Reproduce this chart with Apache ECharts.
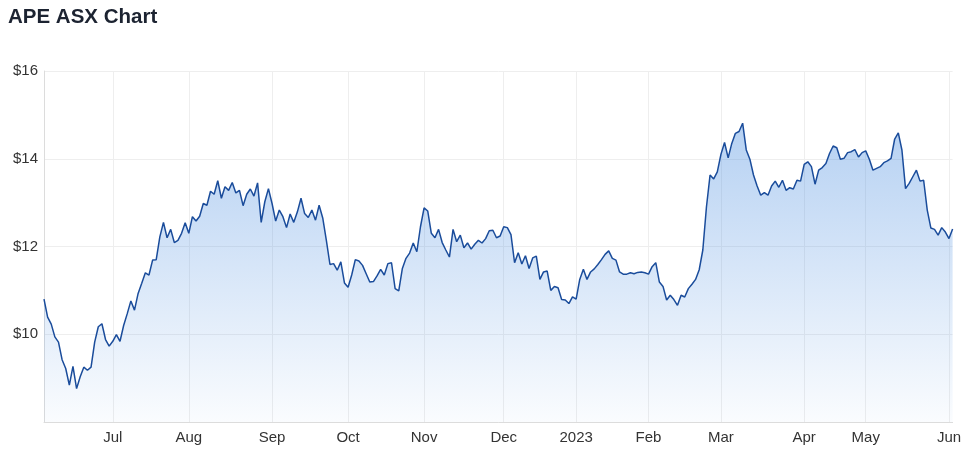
<!DOCTYPE html>
<html>
<head>
<meta charset="utf-8">
<script src="https://cdn.jsdelivr.net/npm/echarts@6/dist/echarts.min.js"></script>
<style>
html,body{margin:0;padding:0;background:#fff;}
#chart{width:970px;height:458px;}
</style>
</head>
<body>
<div id="chart"></div>
<script>
// ---- data ----
const titleText = 'APE ASX Chart';
const startDate = '2022-06-03';
const endDate = '2023-06-02';
const asxHolidays = ['2022-06-13','2022-09-22','2022-12-26','2022-12-27','2023-01-02','2023-01-26','2023-04-07','2023-04-10','2023-04-25'];
const monthLabels = ['2023','Feb','Mar','Apr','May','Jun','Jul','Aug','Sep','Oct','Nov','Dec'];
const yTicks = [8, 10, 12, 14, 16];
const prices = [
10.80,10.39,10.23,9.94,9.82,9.42,9.22,8.84,9.27,8.76,
9.03,9.25,9.18,9.25,9.82,10.17,10.24,9.88,9.73,9.84,
9.99,9.84,10.20,10.47,10.76,10.55,10.93,11.16,11.40,11.35,
11.69,11.70,12.22,12.55,12.20,12.39,12.09,12.14,12.30,12.54,
12.30,12.68,12.58,12.69,12.98,12.94,13.26,13.19,13.50,13.10,
13.36,13.28,13.46,13.22,13.28,12.93,13.19,13.31,13.15,13.45,
12.55,13.02,13.32,12.98,12.58,12.83,12.68,12.43,12.74,12.55,
12.79,13.10,12.75,12.66,12.83,12.60,12.94,12.65,12.14,11.59,
11.61,11.46,11.65,11.17,11.07,11.35,11.70,11.67,11.57,11.38,
11.19,11.20,11.33,11.48,11.35,11.61,11.63,11.04,10.99,11.50,
11.73,11.85,12.08,11.88,12.45,12.88,12.81,12.30,12.20,12.39,
12.09,11.92,11.76,12.39,12.11,12.26,11.97,12.08,11.94,12.05,
12.14,12.08,12.18,12.36,12.37,12.20,12.24,12.45,12.43,12.27,
11.63,11.86,11.60,11.79,11.50,11.74,11.78,11.25,11.42,11.44,
11.00,11.09,11.06,10.79,10.78,10.70,10.85,10.80,11.25,11.48,
11.25,11.42,11.49,11.59,11.70,11.82,11.90,11.73,11.69,11.42,
11.37,11.37,11.40,11.38,11.41,11.42,11.40,11.37,11.54,11.63,
11.19,11.09,10.78,10.89,10.79,10.66,10.89,10.85,11.04,11.14,
11.25,11.47,11.92,12.90,13.63,13.54,13.70,14.10,14.37,14.02,
14.35,14.58,14.62,14.81,14.20,13.99,13.63,13.38,13.17,13.23,
13.17,13.38,13.49,13.35,13.51,13.28,13.34,13.31,13.51,13.49,
13.87,13.93,13.82,13.42,13.74,13.80,13.89,14.12,14.29,14.25,
13.99,14.01,14.14,14.16,14.21,14.04,14.14,14.18,13.99,13.74,
13.78,13.82,13.91,13.95,14.01,14.45,14.59,14.20,13.32,13.44,
13.59,13.74,13.49,13.51,12.83,12.42,12.39,12.26,12.43,12.33,
12.18,12.40
];

// ---- trading-day categories (weekdays minus ASX holidays) ----
function tradingDays(s, e, hol) {
  const out = [];
  const d = new Date(s + 'T00:00:00Z');
  const end = new Date(e + 'T00:00:00Z');
  while (d <= end) {
    const iso = d.toISOString().slice(0, 10);
    const wd = d.getUTCDay();
    if (wd !== 0 && wd !== 6 && hol.indexOf(iso) < 0) out.push(iso);
    d.setUTCDate(d.getUTCDate() + 1);
  }
  return out;
}
const dates = tradingDays(startDate, endDate, asxHolidays);

function isMonthStart(i) {
  return i > 0 && dates[i] && dates[i].slice(5, 7) !== dates[i - 1].slice(5, 7);
}

const font = '"Liberation Sans", Arial, Helvetica, sans-serif';
const chart = echarts.init(document.getElementById('chart'), null, {renderer: 'canvas'});
chart.setOption({
  animation: false,
  backgroundColor: '#ffffff',
  title: {
    text: titleText,
    left: 3,
    top: 2,
    textStyle: {fontFamily: font, fontSize: 20.5, fontWeight: 'bold', color: '#1c2331'}
  },
  grid: {left: 44, top: 71, right: 17.4, bottom: 36, containLabel: false},
  xAxis: {
    type: 'category',
    data: dates,
    boundaryGap: false,
    axisLine: {show: true, lineStyle: {color: '#dcdcdc', width: 1}},
    axisTick: {show: false},
    axisLabel: {
      interval: (i) => isMonthStart(i),
      formatter: (v) => monthLabels[parseInt(v.slice(5, 7), 10) - 1],
      fontFamily: font, fontSize: 15, color: '#333333', margin: 8
    },
    splitLine: {show: true, interval: (i) => isMonthStart(i), lineStyle: {color: '#eeeeee', width: 1}}
  },
  yAxis: {
    type: 'value',
    min: yTicks[0],
    max: yTicks[yTicks.length - 1],
    interval: yTicks[1] - yTicks[0],
    axisLine: {show: true, lineStyle: {color: '#dcdcdc', width: 1}},
    axisTick: {show: false},
    axisLabel: {
      formatter: (v) => v === yTicks[0] ? '' : '$' + v,
      fontFamily: font, fontSize: 15, color: '#333333', margin: 6
    },
    splitLine: {show: true, lineStyle: {color: '#eeeeee', width: 1}}
  },
  series: [{
    type: 'line',
    data: prices,
    symbol: 'none',
    smooth: false,
    lineStyle: {color: '#1a4c9b', width: 1.5},
    areaStyle: {
      color: new echarts.graphic.LinearGradient(0, 0, 0, 1, [
        {offset: 0, color: 'rgba(80,145,225,0.60)'},
        {offset: 1, color: 'rgba(80,145,225,0.04)'}
      ])
    }
  }]
});
</script>
</body>
</html>
